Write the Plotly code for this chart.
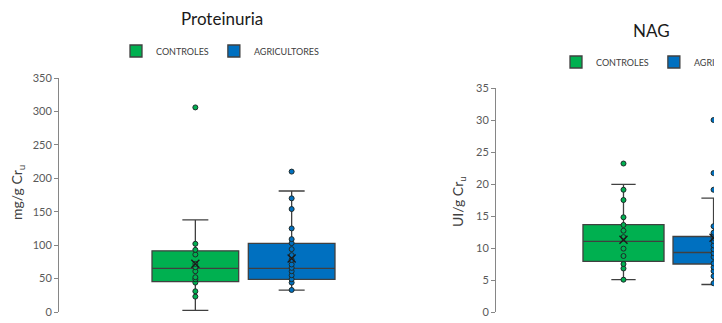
import plotly.graph_objects as go

groups = ["CONTROLES", "AGRICULTORES"]
colors = ["#00B050", "#0070C0"]

# Proteinuria, mg/g Cr_u
prot_controles = [306, 102, 93, 86, 72, 67, 61, 52, 49, 44, 31, 23]
prot_agricultores = [210, 170, 154, 125, 109, 103, 94, 85, 78, 71, 66, 61, 55, 49, 44, 33]
# box stats [controles, agricultores]
prot_q1 = [45.3, 48.8]
prot_median = [65.2, 65.2]
prot_q3 = [91.5, 102.5]
prot_low = [2.5, 32.8]
prot_high = [137.8, 181]
prot_mean = [72, 80]

# NAG, UI/g Cr_u
nag_controles = [23.2, 19.1, 17.5, 14.8, 13.6, 12.7, 11.7, 9.9, 8.75, 7.5, 6.8, 5.05]
nag_agricultores = [30.0, 21.7, 19.1, 13.4, 12.4, 12.0, 11.6, 11.1, 10.4, 9.8, 9.2, 8.6,
                    7.6, 7.0, 6.4, 5.6, 4.5]
nag_q1 = [7.9, 7.5]
nag_median = [11.05, 9.3]
nag_q3 = [13.65, 11.8]
nag_low = [5.05, 4.3]
nag_high = [19.95, 17.8]
nag_mean = [11.3, 11.6]

FONT = "Lato"
fig = go.Figure()


def add_panel(cat, pts, q1, med, q3, low, high, mean, xa, ya, leg):
    for i, name in enumerate(groups):
        fig.add_trace(go.Box(
            x=[cat], y=[pts[i]], q1=[q1[i]], median=[med[i]], q3=[q3[i]],
            lowerfence=[low[i]], upperfence=[high[i]], name=name,
            boxpoints="all", jitter=0, pointpos=0, whiskerwidth=0.3,
            fillcolor=colors[i], line=dict(color="#404040", width=1.3),
            marker=dict(color=colors[i], size=5, line=dict(color="#1e2a2a", width=1)),
            offsetgroup=name, xaxis=xa, yaxis=ya, legend=leg, hoverinfo="skip"))
        # mean marker (Excel style X)
        fig.add_trace(go.Box(
            x=[cat], y=[[mean[i]]], q1=[mean[i]], median=[mean[i]], q3=[mean[i]],
            lowerfence=[mean[i]], upperfence=[mean[i]], name=name,
            boxpoints="all", jitter=0, pointpos=0,
            fillcolor="rgba(0,0,0,0)", line=dict(color="rgba(0,0,0,0)", width=0),
            marker=dict(symbol="x-thin", size=8, color="black",
                        line=dict(color="#1a1a1a", width=1.4)),
            offsetgroup=name, xaxis=xa, yaxis=ya, showlegend=False, hoverinfo="skip"))


add_panel("Proteinuria", [prot_controles, prot_agricultores], prot_q1, prot_median, prot_q3,
          prot_low, prot_high, prot_mean, "x", "y", "legend")
add_panel("NAG", [nag_controles, nag_agricultores], nag_q1, nag_median, nag_q3,
          nag_low, nag_high, nag_mean, "x2", "y2", "legend2")

yax = dict(showline=True, linecolor="#868686", linewidth=1, ticks="outside", ticklen=4,
           tickcolor="#868686", showgrid=False, zeroline=False,
           tickfont=dict(family=FONT, size=11, color="#595959"))

# the page adds an 8px body margin, so the figure is 8px smaller and positions are shifted
PAD = 8
W, H = 722 - PAD, 323 - PAD


def fx(p):
    return (p - PAD) / W


def fy(p):
    return 1 - (p - PAD) / H


fig.update_layout(
    width=W, height=H,
    margin=dict(l=0, r=0, t=0, b=0, autoexpand=False),
    plot_bgcolor="white", paper_bgcolor="white",
    boxmode="group", boxgap=0.478, boxgroupgap=0.1,
    xaxis=dict(domain=[fx(59), fx(428)], type="category", autorange=False,
               range=[-0.5, 0.5], visible=False),
    yaxis=dict(domain=[fy(312), fy(78)], range=[0, 350], dtick=50, **yax),
    xaxis2=dict(domain=[fx(496), 1], type="category", autorange=False,
                range=[-0.5, 0.155], visible=False, anchor="y2"),
    yaxis2=dict(domain=[fy(312), fy(88)], range=[0, 35], dtick=5, anchor="x2", **yax),
    legend=dict(orientation="h", x=fx(116), y=fy(51), yanchor="middle", xanchor="left",
                itemwidth=30, bgcolor="rgba(0,0,0,0)",
                font=dict(family=FONT, size=9, color="#404040")),
    legend2=dict(orientation="h", x=fx(556), y=fy(62), yanchor="middle", xanchor="left",
                 itemwidth=30, bgcolor="rgba(0,0,0,0)",
                 font=dict(family=FONT, size=9, color="#404040")),
    showlegend=True,
)

titles = [("Proteinuria", 222, 19), ("NAG", 651, 31)]
for text, px, py in titles:
    fig.add_annotation(text=text, x=fx(px), y=fy(py), xref="paper", yref="paper",
                       xanchor="center", yanchor="middle", showarrow=False,
                       font=dict(family=FONT, size=17, color="#1a1a1a"))

ytitles = [("mg/g Cr<sub>u</sub>", 17, 193), ("UI/g Cr<sub>u</sub>", 458, 202)]
for text, px, py in ytitles:
    fig.add_annotation(text=text, x=fx(px), y=fy(py), xref="paper", yref="paper",
                       xanchor="center", yanchor="middle", showarrow=False, textangle=-90,
                       font=dict(family=FONT, size=14, color="#404040"))

fig.write_html("out.html")
